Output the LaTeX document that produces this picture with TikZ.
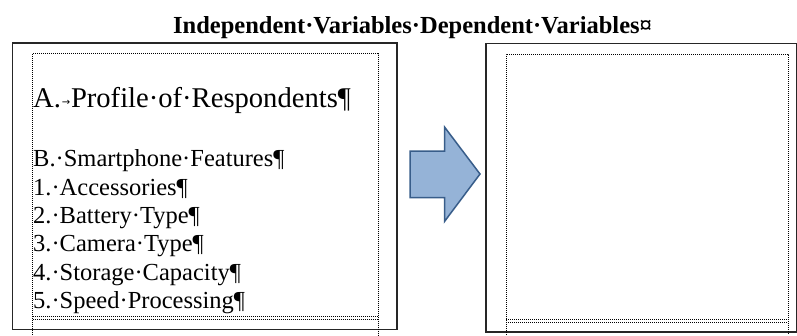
\documentclass[tikz,border=0pt]{standalone}
\usepackage{fontspec}
\setmainfont{Liberation Serif}
\newfontfamily\serifitem{Liberation Serif}
\newfontfamily\arrowsym{DejaVu Sans}
\usetikzlibrary{positioning}
\definecolor{arrowfill}{RGB}{149,179,215}
\definecolor{arrowline}{RGB}{56,93,138}
\newcommand{\tabarrow}{\makebox[10pt]{\raisebox{1.5pt}{\arrowsym\fontsize{10}{10}\selectfont →}}}

\begin{document}
\begin{tikzpicture}[x=1pt, y=-1pt,
  framebox/.style={draw=black!85, line width=1.3pt},
  dotbox/.style={draw=black, line width=1pt, dash pattern=on 1pt off 1pt},
  itemtext/.style={anchor=base west, inner sep=0pt, font=\serifitem\fontsize{24.5}{28}\selectfont}]
  \useasboundingbox (0,0) rectangle (797,335);

  % Title
  \node[itemtext, font=\serifitem\fontsize{24.5}{28}\selectfont\bfseries] (title) at (173,33)
    {Independent·Variables·Dependent·Variables¤};

  % Independent variables box
  \draw[framebox] (12.5,43) rectangle (397,329.5);
  \draw[dotbox] (32.5,335) -- (32.5,53.5) -- (378,53.5) -- (378,335);
  \draw[dotbox] (32.5,316.5) -- (378,316.5);
  \draw[dotbox] (32.5,319) -- (378,319);

  \node[itemtext, font=\serifitem\fontsize{28.6}{32}\selectfont] (profile) at (33,107)
    {A.\tabarrow Profile·of·Respondents¶};
  \node[itemtext] (features) at (33,166.7) {B.·Smartphone·Features¶};
  \foreach \feat [count=\i] in {Accessories, Battery·Type, Camera·Type, Storage·Capacity, Speed·Processing}
    \node[itemtext] (feat\i) at (33,166.7+28.33*\i) {\i.·\feat¶};

  % Block arrow
  \draw[fill=arrowfill, draw=arrowline, line width=1.5pt, line join=miter]
    (410,151) -- (444.5,151) -- (444.5,127) -- (480,174) -- (444.5,221.5)
    -- (444.5,197.5) -- (410,197.5) -- cycle;

  % Dependent variables box
  \draw[framebox] (486,43.5) rectangle (796.5,332);
  \draw[dotbox] (506,335) -- (506,54) -- (788,54) -- (788,335);
  \draw[dotbox] (506,319.5) -- (788,319.5);
  \draw[dotbox] (506,322) -- (788,322);
\end{tikzpicture}
\end{document}
